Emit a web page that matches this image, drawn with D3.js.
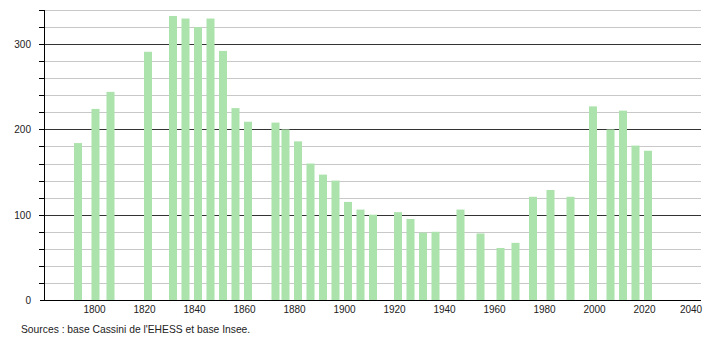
<!DOCTYPE html>
<html>
<head>
<meta charset="utf-8">
<script src="https://cdn.jsdelivr.net/npm/d3@7"></script>
<style>
  body { margin: 0; background: #fff; }
  svg text { font-family: "Liberation Sans", Arial, sans-serif; font-size: 10px; fill: #222; }
</style>
</head>
<body>
<div id="graph"></div>
<script>
// census years and population
const years = [1793, 1800, 1806, 1821, 1831, 1836, 1841, 1846, 1851, 1856, 1861,
    1872, 1876, 1881, 1886, 1891, 1896, 1901, 1906, 1911, 1921, 1926, 1931, 1936,
    1946, 1954, 1962, 1968, 1975, 1982, 1990, 1999, 2006, 2011, 2016, 2021];
const population = [184, 224, 244, 291, 333, 330, 320, 330, 292, 225, 209,
    208, 200, 186, 160, 147, 140, 115, 106, 100, 103, 95, 79, 80,
    106, 78, 61, 67, 121, 129, 121, 227, 200, 222, 181, 175];

const xTicks = [1800, 1820, 1840, 1860, 1880, 1900, 1920, 1940, 1960, 1980, 2000, 2020, 2040];
const yLabels = [0, 100, 200, 300];
const yGrid = d3.range(20, 341, 20);

const source = "Sources : base Cassini de l'EHESS et base Insee.";

const width = 710, height = 340;
const plotLeft = 44, plotRight = 701, plotTop = 10, plotBottom = 300;

const svg = d3.select("#graph")
    .append("svg")
    .attr("width", width)
    .attr("height", height);

let x = d3.scaleLinear()
    .domain([1779.4, 2042.2])
    .range([plotLeft, plotRight]);

let y = d3.scaleLinear()
    .domain([0, 340])
    .range([plotBottom, plotTop]);

// grid lines (minor light, every 100 dark)
svg.append("g")
    .selectAll("line")
    .data(yGrid)
    .join("line")
    .attr("x1", plotLeft)
    .attr("x2", plotRight)
    .attr("y1", d => Math.round(y(d)) + 0.5)
    .attr("y2", d => Math.round(y(d)) + 0.5)
    .attr("stroke", d => d % 100 === 0 ? "#333" : "#c8c8c8")
    .attr("stroke-width", 1);

// bars
svg.append("g")
    .selectAll("rect")
    .data(years)
    .join("rect")
    .attr("x", d => x(d) - 4)
    .attr("width", 8)
    .attr("y", (d, i) => y(population[i]))
    .attr("height", (d, i) => plotBottom - y(population[i]))
    .attr("fill", "#ace3ac");

// y axis with ticks every 20
svg.append("line")
    .attr("x1", plotLeft + 0.5).attr("x2", plotLeft + 0.5)
    .attr("y1", plotTop).attr("y2", plotBottom)
    .attr("stroke", "#000");
svg.append("g")
    .selectAll("line")
    .data(yGrid)
    .join("line")
    .attr("x1", plotLeft - 5)
    .attr("x2", plotLeft)
    .attr("y1", d => Math.round(y(d)) + 0.5)
    .attr("y2", d => Math.round(y(d)) + 0.5)
    .attr("stroke", "#000");

svg.append("g")
    .selectAll("text")
    .data(yLabels)
    .join("text")
    .attr("x", 31)
    .attr("y", d => y(d) + 4)
    .attr("text-anchor", "end")
    .text(d => d);

// x axis
svg.append("line")
    .attr("x1", 40).attr("x2", plotRight)
    .attr("y1", plotBottom + 0.5).attr("y2", plotBottom + 0.5)
    .attr("stroke", "#000");

svg.append("g")
    .selectAll("text")
    .data(xTicks)
    .join("text")
    .attr("x", d => Math.min(x(d) - 1, 691))
    .attr("y", 313)
    .attr("text-anchor", "middle")
    .text(d => d);

svg.append("text")
    .attr("x", 21)
    .attr("y", 333)
    .style("font-size", "10.3px")
    .text(source);
</script>
</body>
</html>
